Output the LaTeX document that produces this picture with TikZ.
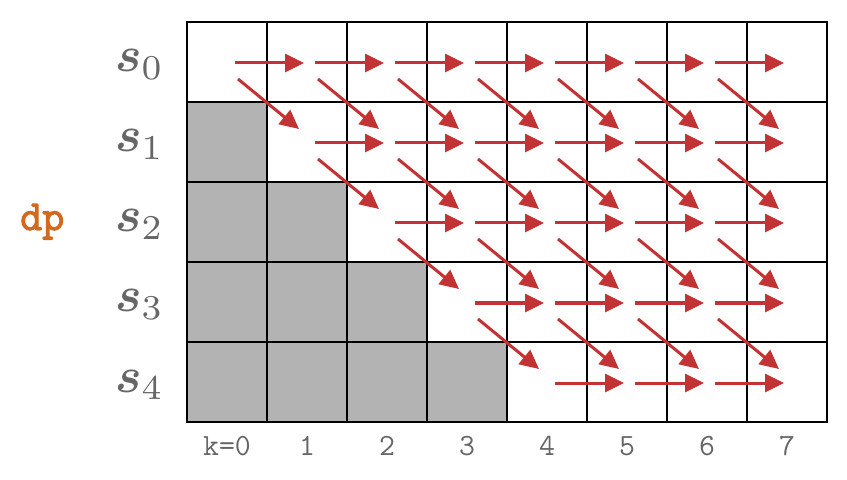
\documentclass[tikz,border=0pt]{standalone}
\usepackage{graphicx}
\usepackage{amsmath}
\usepackage{fontspec}
\newfontfamily\dpfont{Latin Modern Mono}[FakeBold=2.5]
\usetikzlibrary{arrows.meta}
\definecolor{arrowred}{RGB}{196,51,51}
\definecolor{shadegray}{RGB}{179,179,179}
\definecolor{labelgray}{RGB}{102,102,102}
\definecolor{dporange}{RGB}{210,105,30}
\begin{document}
\begin{tikzpicture}[x=1bp,y=-1bp,
  cell/.style={minimum width=80bp, minimum height=80bp, inner sep=0pt, outer sep=0pt},
  shadedcell/.style={cell, fill=shadegray},
  gridline/.style={draw=black, line width=2bp},
  move/.style={draw=arrowred, line width=3bp, -{Triangle[length=19bp,width=18bp]}},
  rowlabel/.style={text=labelgray, anchor=base west, inner sep=0pt},
  collabel/.style={text=labelgray, anchor=base, inner sep=0pt, font=\ttfamily\fontsize{31}{36}\selectfont},
  dplabel/.style={text=dporange, anchor=base west, inner sep=0pt, font=\dpfont\fontsize{43}{48}\selectfont}
  ]
\useasboundingbox (0,0) rectangle (847,480);
% cells
\foreach \i in {0,...,4}{
  \foreach \j in {0,...,7}{
    \ifnum\j<\i
      \node[shadedcell] (c-\i-\j) at ({227+80*\j},{62+80*\i}) {};
    \else
      \node[cell] (c-\i-\j) at ({227+80*\j},{62+80*\i}) {};
    \fi
  }
}
\foreach \i in {0,...,4}{
  \foreach \j in {0,...,7}{
    \draw[gridline] (c-\i-\j.north west) rectangle (c-\i-\j.south east);
  }
}
% horizontal moves
\foreach \i in {0,...,4}{
  \foreach \j in {\i,...,6}{
    \pgfmathtruncatemacro\nextj{\j+1}
    \draw[move] ([shift={(8,1)}]c-\i-\j.center) -- ([shift={(-3,1)}]c-\i-\nextj.center);
  }
}
% diagonal moves
\foreach \i in {0,...,3}{
  \foreach \j in {\i,...,6}{
    \pgfmathtruncatemacro\nextj{\j+1}
    \pgfmathtruncatemacro\nexti{\i+1}
    \draw[move] ([shift={(11,17)}]c-\i-\j.center) -- ([shift={(-8,-13)}]c-\nexti-\nextj.center);
  }
}
% row labels
\foreach \i in {0,...,4}{
  \node[rowlabel] (s\i) at (115,{72+80*\i}) {\scalebox{5}{$\boldsymbol{s}_{\i}$}};
}
% column labels
\node[collabel] (k0) at (227,455) {k=0};
\foreach \j in {1,...,7}{
  \node[collabel] (k\j) at ({227+80*\j},455) {\j};
}
\node[dplabel] (dp) at (20,230) {dp};
\end{tikzpicture}
\end{document}
